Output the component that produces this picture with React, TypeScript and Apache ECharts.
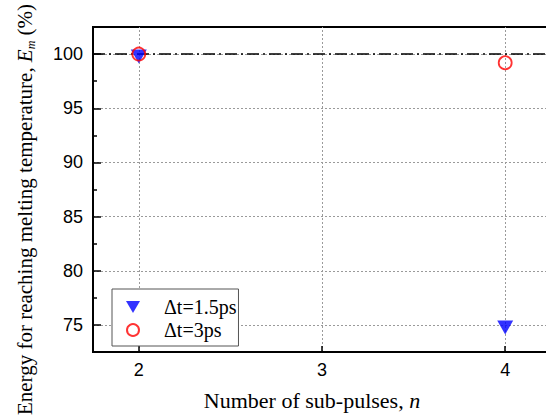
import React, { useEffect, useRef } from "react";
import * as echarts from "echarts";

const subPulses = [2, 4];
const dt15Values = [100, 75];
const dt3Values = [100, 99.2];
const seriesNames = ["Δt=1.5ps", "Δt=3ps"];
const xTicks = [2, 3, 4];
const yTicks = [75, 80, 85, 90, 95, 100];
const yMinorTicks = [77.5, 82.5, 87.5, 92.5, 97.5];
const referenceLevel = 100;

const serif = "'Liberation Serif', 'Times New Roman', serif";
const sans = "'Liberation Sans', Arial, sans-serif";
const triangleDown = "path://M0,0L10,0L5,8.5Z";

export default function App() {
  const ref = useRef<HTMLDivElement>(null);
  useEffect(() => {
    if (!ref.current) return;
    const chart = echarts.init(ref.current, null, { renderer: "svg" });
    const gridLines = [
      ...xTicks.map((v) => ({ xAxis: v })),
      ...yTicks.map((v) => ({ yAxis: v })),
    ];
    chart.setOption({
      animation: false,
      backgroundColor: "#fff",
      grid: {
        left: 93,
        top: 27,
        right: -5,
        bottom: 63,
        show: true,
        borderColor: "#000",
        borderWidth: 2,
        containLabel: false,
        outerBoundsMode: "none",
      },
      legend: {
        orient: "vertical",
        left: 112,
        top: 289,
        padding: [8, 2, 6, 14],
        itemGap: 3,
        itemWidth: 14,
        itemHeight: 12,
        backgroundColor: "#fff",
        borderColor: "#555",
        borderWidth: 1,
        borderRadius: 0,
        z: 10,
        data: seriesNames,
        textStyle: {
          fontFamily: serif,
          fontSize: 20,
          color: "#000",
          padding: [0, 0, 0, 19],
        },
      },
      xAxis: {
        type: "value",
        min: 1.75,
        max: 4.25,
        name: "Number of sub-pulses, {i|n}",
        nameLocation: "middle",
        nameGap: 37,
        nameTextStyle: {
          fontFamily: serif,
          fontSize: 22,
          color: "#000",
          padding: [0, 20, 0, 0],
          rich: { i: { fontFamily: serif, fontSize: 22, fontStyle: "italic", color: "#000" } },
        },
        axisLine: { show: true, lineStyle: { color: "#000", width: 2 } },
        axisTick: { show: true, inside: true, length: 6, customValues: xTicks, lineStyle: { color: "#000", width: 1.5 } },
        axisLabel: { customValues: xTicks, fontFamily: sans, fontSize: 18, color: "#000", margin: 9 },
        splitLine: { show: false },
      },
      yAxis: [
        {
          type: "value",
          min: 72.5,
          max: 102.5,
          name: "{n|Energy for reaching melting temperature, }{i|E}{s|m}{n| (%)}",
          nameLocation: "middle",
          nameRotate: 90,
          nameGap: 56,
          nameTextStyle: {
            padding: [0, 40, 0, 0],
            rich: {
              n: { fontFamily: serif, fontSize: 21, color: "#000" },
              i: { fontFamily: serif, fontSize: 21, fontStyle: "italic", color: "#000" },
              s: { fontFamily: serif, fontSize: 12, fontStyle: "italic", color: "#000", padding: [12, 0, 0, 0] },
            },
          },
          axisLine: { show: true, lineStyle: { color: "#000", width: 2 } },
          axisTick: { show: true, inside: true, length: 8, customValues: yTicks, lineStyle: { color: "#000", width: 1.5 } },
          axisLabel: { customValues: yTicks, fontFamily: sans, fontSize: 18, color: "#000", margin: 10 },
          splitLine: { show: false },
        },
        {
          type: "value",
          min: 72.5,
          max: 102.5,
          position: "left",
          axisLine: { show: false },
          axisTick: { show: true, inside: true, length: 4, customValues: yMinorTicks, lineStyle: { color: "#000", width: 1.5 } },
          axisLabel: { show: false },
          splitLine: { show: false },
        },
      ],
      series: [
        {
          name: seriesNames[0],
          type: "scatter",
          z: 3,
          symbol: triangleDown,
          symbolSize: [16, 14],
          symbolOffset: [0, 2.5],
          itemStyle: { color: "#0000ff" },
          data: subPulses.map((x, i) => [x, dt15Values[i]]),
          markLine: {
            silent: true,
            symbol: "none",
            z: 1,
            label: { show: false },
            lineStyle: { color: "#000", width: 1.5, type: [12, 4, 2, 4] },
            data: [{ yAxis: referenceLevel }],
          },
        },
        {
          name: seriesNames[1],
          type: "scatter",
          z: 4,
          symbol: "circle",
          symbolSize: 13,
          itemStyle: { color: "rgba(255,255,255,0)", borderColor: "#ff0000", borderWidth: 1.8 },
          data: subPulses.map((x, i) => [x, dt3Values[i]]),
          markLine: {
            silent: true,
            symbol: "none",
            z: 0,
            label: { show: false },
            lineStyle: { color: "#9a9a9a", width: 1, type: [2, 2] },
            data: gridLines,
          },
        },
      ],
    });
    return () => chart.dispose();
  }, []);
  return <div ref={ref} style={{ position: "absolute", left: 0, top: 0, width: 546, height: 415 }} />;
}
